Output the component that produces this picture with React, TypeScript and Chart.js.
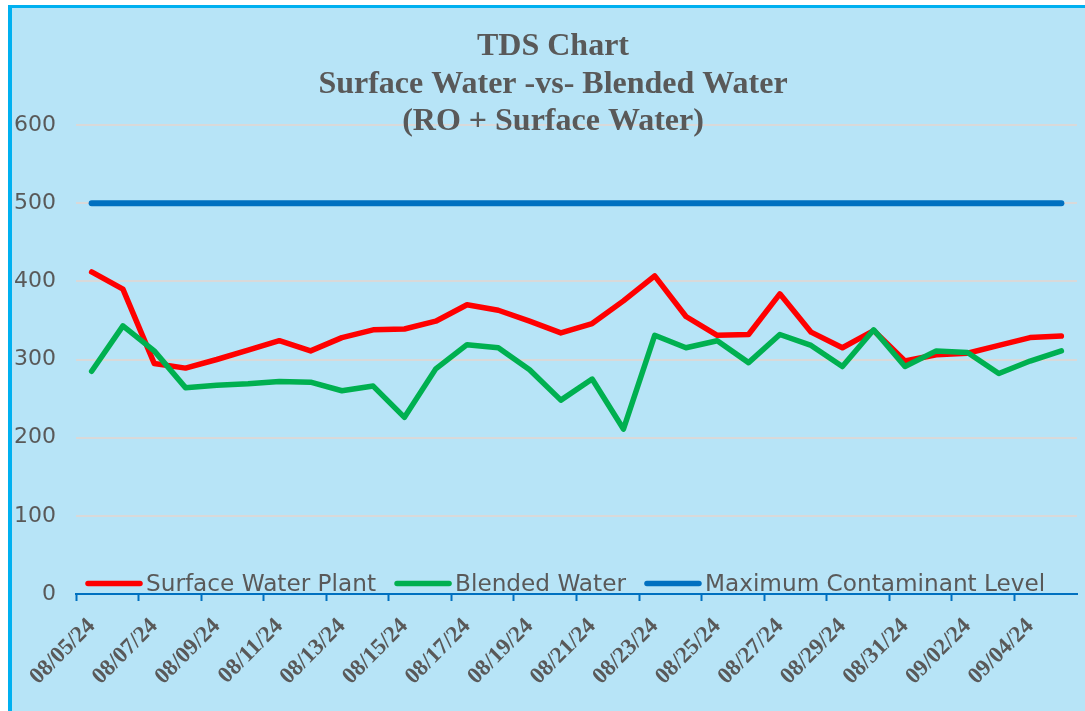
import { useEffect, useRef } from 'react';
import { Chart, registerables } from 'chart.js';

Chart.register(...registerables);

const dates = [
  '08/05/24', '08/06/24', '08/07/24', '08/08/24', '08/09/24', '08/10/24', '08/11/24', '08/12/24',
  '08/13/24', '08/14/24', '08/15/24', '08/16/24', '08/17/24', '08/18/24', '08/19/24', '08/20/24',
  '08/21/24', '08/22/24', '08/23/24', '08/24/24', '08/25/24', '08/26/24', '08/27/24', '08/28/24',
  '08/29/24', '08/30/24', '08/31/24', '09/01/24', '09/02/24', '09/03/24', '09/04/24', '09/05/24',
];
const surfaceWater = [
  412, 390, 295, 289, 300, 312, 324, 311, 328, 338, 339, 349, 370, 363, 349, 334,
  346, 375, 407, 355, 331, 332, 384, 335, 315, 337, 298, 306, 308, 318, 328, 330,
];
const blendedWater = [
  285, 343, 311, 264, 267, 269, 272, 271, 260, 266, 226, 288, 319, 315, 287, 248,
  275, 211, 331, 315, 324, 296, 332, 318, 291, 338, 291, 311, 309, 282, 298, 311,
];
const maxContaminantLevel = [
  500, 500, 500, 500, 500, 500, 500, 500, 500, 500, 500, 500, 500, 500, 500, 500,
  500, 500, 500, 500, 500, 500, 500, 500, 500, 500, 500, 500, 500, 500, 500, 500,
];
const seriesNames = ['Surface Water Plant', 'Blended Water', 'Maximum Contaminant Level'];
const titleLines = ['TDS Chart', 'Surface Water -vs- Blended Water', '(RO + Surface Water)'];
const yMin = 0;
const yMax = 600;
const yStep = 100;

const GRAY = '#595959';
const RED = '#FF0000';
const GREEN = '#00B050';
const BLUE = '#0070C0';

const titlePlugin = {
  id: 'titleLines',
  afterDraw(chart: any) {
    const ctx = chart.ctx;
    ctx.save();
    ctx.fillStyle = GRAY;
    ctx.font = 'bold 32px "Liberation Serif", "Times New Roman", serif';
    ctx.textAlign = 'center';
    ctx.textBaseline = 'middle';
    titleLines.forEach((t, i) => ctx.fillText(t, 541, 39 + i * 37.5));
    ctx.restore();
  },
};

const legendPlugin = {
  id: 'innerLegend',
  afterDraw(chart: any) {
    const ctx = chart.ctx;
    ctx.save();
    ctx.font = '23.2px "DejaVu Sans", sans-serif';
    ctx.textBaseline = 'alphabetic';
    ctx.textAlign = 'left';
    let x = 74;
    const yLine = 575.5;
    const yText = 582.5;
    chart.data.datasets.forEach((ds: any) => {
      ctx.strokeStyle = ds.borderColor;
      ctx.lineWidth = 5.5;
      ctx.lineCap = 'round';
      ctx.beginPath();
      ctx.moveTo(x + 2, yLine);
      ctx.lineTo(x + 54, yLine);
      ctx.stroke();
      ctx.fillStyle = GRAY;
      ctx.fillText(ds.label, x + 60, yText);
      x += 60 + ctx.measureText(ds.label).width + 19;
    });
    ctx.restore();
  },
};

export default function App() {
  const ref = useRef<HTMLCanvasElement>(null);

  useEffect(() => {
    if (!ref.current) return;
    const lineCommon = {
      pointRadius: 0,
      pointHoverRadius: 0,
      borderCapStyle: 'round' as const,
      borderJoinStyle: 'round' as const,
      tension: 0,
      fill: false,
    };
    const chart = new Chart(ref.current, {
      type: 'line',
      data: {
        labels: dates,
        datasets: [
          { ...lineCommon, label: seriesNames[0], data: surfaceWater, borderColor: RED, backgroundColor: RED, borderWidth: 5.5, order: 1 },
          { ...lineCommon, label: seriesNames[1], data: blendedWater, borderColor: GREEN, backgroundColor: GREEN, borderWidth: 5.5, order: 0 },
          { ...lineCommon, label: seriesNames[2], data: maxContaminantLevel, borderColor: BLUE, backgroundColor: BLUE, borderWidth: 6, order: 2 },
        ],
      },
      options: {
        animation: false,
        responsive: true,
        maintainAspectRatio: false,
        layout: { padding: { top: 117, right: 8, left: 0, bottom: 0 } },
        plugins: {
          legend: { display: false },
          title: { display: false },
          tooltip: { enabled: false },
        },
        scales: {
          x: {
            type: 'category',
            offset: true,
            afterFit: (s: any) => {
              s.height = 117;
              s.paddingLeft = 0;
              s.paddingRight = 0;
            },
            grid: {
              offset: true,
              drawOnChartArea: false,
              drawTicks: true,
              tickLength: 7,
              tickWidth: 2,
              color: (c: any) => (c.index % 2 === 0 ? BLUE : 'rgba(0,0,0,0)'),
              tickColor: (c: any) => (c.index % 2 === 0 ? BLUE : 'rgba(0,0,0,0)'),
            },
            border: { display: true, color: BLUE, width: 2 },
            ticks: {
              autoSkip: false,
              minRotation: 45,
              maxRotation: 45,
              padding: 12,
              color: GRAY,
              font: { family: '"Liberation Serif", "Times New Roman", serif', size: 23, weight: 'bold' },
              callback: (_v: any, i: number) => (i % 2 === 0 ? dates[i] : ''),
            },
          },
          y: {
            min: yMin,
            max: yMax,
            afterFit: (s: any) => {
              s.width = 64;
              s.paddingTop = 0;
              s.paddingBottom = 0;
            },
            border: { display: false },
            grid: { color: '#D9D9D9', lineWidth: 2, drawTicks: false },
            ticks: {
              stepSize: yStep,
              padding: 20,
              color: GRAY,
              font: { family: '"DejaVu Sans", sans-serif', size: 22 },
            },
          },
        },
      },
      plugins: [titlePlugin, legendPlugin],
    });
    return () => chart.destroy();
  }, []);

  return (
    <div
      style={{
        position: 'fixed',
        left: 8,
        top: 5,
        width: 1077,
        height: 706,
        boxSizing: 'border-box',
        borderTop: '3px solid #00B0F0',
        borderLeft: '4px solid #00B0F0',
        background: '#B7E4F7',
      }}
    >
      <div style={{ position: 'relative', width: 1073, height: 703 }}>
        <canvas ref={ref} />
      </div>
    </div>
  );
}
